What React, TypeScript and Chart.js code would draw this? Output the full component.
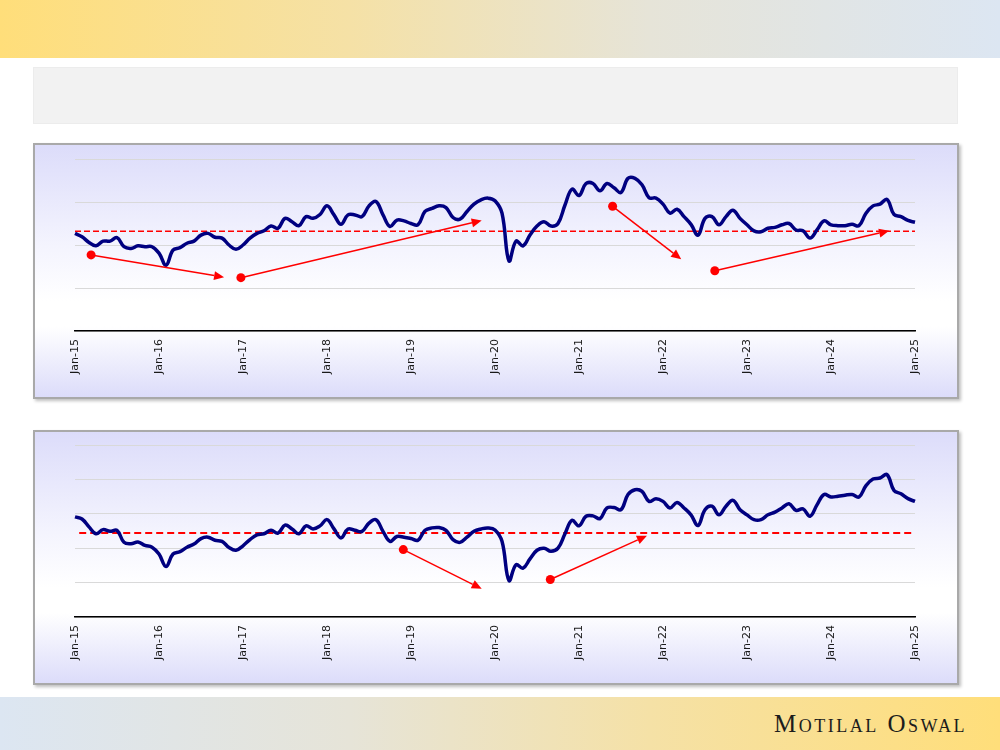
import React, { useEffect, useRef } from "react";
import { Chart, registerables } from "chart.js";

Chart.register(...registerables);

// ---------- DATA ----------
const yearSuffixes = ["15", "16", "17", "18", "19", "20", "21", "22", "23", "24", "25"];
const monthNames = ["Jan", "Feb", "Mar", "Apr", "May", "Jun", "Jul", "Aug", "Sep", "Oct", "Nov", "Dec"];

const categories: string[] = [];
yearSuffixes.forEach((yr, yi) => {
  monthNames.forEach((m, mi) => {
    if (yi === yearSuffixes.length - 1 && mi > 0) return;
    categories.push(`${m}-${yr}`);
  });
});

const topSeries = [
  22.7, 21.9, 20.6, 19.8, 20.9, 20.9, 21.7, 19.6, 19.2, 19.8, 19.6, 19.6,
  18.1, 15.3, 18.8, 19.4, 20.4, 20.9, 22.3, 22.7, 21.8, 21.6, 20.0, 19.0,
  20.0, 21.6, 22.7, 23.3, 24.4, 23.9, 26.2, 25.4, 24.5, 26.6, 26.2, 27.1,
  29.1, 27.0, 24.8, 27.0, 27.0, 26.6, 29.1, 30.1, 27.0, 24.3, 25.8, 25.6,
  25.0, 24.7, 27.8, 28.5, 29.1, 28.7, 26.4, 26.0, 27.8, 29.5, 30.5, 30.9,
  30.3, 27.4, 16.3, 20.9, 19.8, 22.3, 24.4, 25.4, 24.4, 25.0, 29.3, 33.0,
  31.5, 34.3, 34.3, 32.6, 34.3, 33.3, 32.2, 35.5, 35.5, 34.0, 31.0, 30.9,
  29.5, 27.4, 28.3, 26.6, 24.8, 22.3, 26.2, 26.6, 24.7, 26.6, 28.1, 26.2,
  24.7, 23.3, 23.1, 23.9, 24.1, 24.7, 25.0, 23.5, 23.3, 21.6, 23.5, 25.6,
  24.7, 24.5, 24.5, 24.8, 24.5, 27.4, 29.1, 29.5, 30.6, 27.1, 26.6, 25.7,
  25.3,
];

const bottomSeries = [
  29.1, 28.5, 26.2, 24.2, 25.4, 24.9, 25.2, 21.7, 21.3, 21.8, 20.8, 20.3,
  18.3, 14.7, 18.3, 19.0, 20.3, 21.2, 22.8, 23.2, 22.3, 22.0, 20.2, 19.4,
  20.7, 22.5, 23.9, 24.2, 25.2, 24.4, 26.7, 25.6, 24.2, 26.5, 25.6, 26.5,
  28.3, 25.6, 23.0, 25.6, 25.2, 24.9, 27.3, 28.3, 24.9, 22.0, 23.4, 23.2,
  22.8, 22.3, 25.2, 25.9, 26.0, 25.2, 22.5, 21.7, 23.2, 24.9, 25.6, 25.9,
  25.3, 22.0, 10.6, 15.2, 14.2, 16.9, 19.4, 20.0, 19.1, 20.0, 24.2, 28.1,
  26.5, 29.3, 29.4, 28.6, 31.7, 31.8, 31.2, 35.6, 37.0, 36.5, 33.6, 34.4,
  33.6, 31.7, 33.3, 31.7, 29.7, 26.6, 31.2, 32.2, 29.7, 32.2, 33.9, 31.2,
  29.7, 28.3, 28.3, 29.7, 30.5, 31.7, 32.9, 31.0, 31.4, 29.3, 32.6, 35.6,
  34.9, 35.1, 35.4, 35.6, 34.9, 38.2, 40.1, 40.4, 41.4, 36.8, 35.8, 34.4,
  33.6,
];

const topAverage = 23.2;
const bottomAverage = 24.4;

// arrows: [startMonthIndex, startValue, endMonthIndex, endValue]
const topArrows = [
  [2.3, 17.7, 21.3, 12.5],
  [23.7, 12.4, 58.1, 25.7],
  [76.8, 29.0, 86.6, 16.7],
  [91.4, 14.0, 116.3, 23.3],
];
const bottomArrows = [
  [46.9, 19.6, 58.1, 8.2],
  [67.9, 10.9, 81.7, 23.6],
];

const topScale = { min: 0, max: 40, step: 10 };
const bottomScale = { min: 0, max: 50, step: 10 };

// ---------- PLUGIN ----------
const overlayPlugin = {
  id: "overlay",
  beforeDatasetsDraw(chart: any, _args: any, opts: any) {
    const { ctx, chartArea, scales } = chart;
    const x = scales.x;
    const y = scales.y;
    ctx.save();
    ctx.strokeStyle = "#ff0000";
    ctx.lineWidth = opts.avgWidth;
    ctx.setLineDash(opts.avgDash);
    const py = y.getPixelForValue(opts.average);
    ctx.beginPath();
    ctx.moveTo(x.getPixelForValue(opts.avgStart), py);
    ctx.lineTo(chartArea.right, py);
    ctx.stroke();
    ctx.restore();
  },
  afterDatasetsDraw(chart: any, _args: any, opts: any) {
    const { ctx, scales } = chart;
    const x = scales.x;
    const y = scales.y;
    ctx.save();
    ctx.strokeStyle = "#ff0000";
    ctx.fillStyle = "#ff0000";
    ctx.lineWidth = 1.5;
    (opts.arrows as number[][]).forEach(([sx, sv, ex, ev]) => {
      const x1 = x.getPixelForValue(sx);
      const y1 = y.getPixelForValue(sv);
      const x2 = x.getPixelForValue(ex);
      const y2 = y.getPixelForValue(ev);
      const ang = Math.atan2(y2 - y1, x2 - x1);
      const headLen = 10;
      const headW = 4.5;
      const bx = x2 - headLen * Math.cos(ang);
      const by = y2 - headLen * Math.sin(ang);
      ctx.beginPath();
      ctx.moveTo(x1, y1);
      ctx.lineTo(bx, by);
      ctx.stroke();
      ctx.beginPath();
      ctx.moveTo(x2, y2);
      ctx.lineTo(bx + headW * Math.sin(ang), by - headW * Math.cos(ang));
      ctx.lineTo(bx - headW * Math.sin(ang), by + headW * Math.cos(ang));
      ctx.closePath();
      ctx.fill();
      ctx.beginPath();
      ctx.arc(x1, y1, 4.5, 0, Math.PI * 2);
      ctx.fill();
    });
    ctx.restore();
  },
};

// ---------- COMPONENTS ----------
type PanelProps = {
  top: number;
  height: number;
  series: number[];
  scale: { min: number; max: number; step: number };
  average: number;
  avgStart: number;
  avgWidth: number;
  avgDash: number[];
  arrows: number[][];
  padTop: number;
  axisHeight: number;
};

function ChartPanel(p: PanelProps) {
  const ref = useRef<HTMLCanvasElement | null>(null);
  useEffect(() => {
    if (!ref.current) return;
    const chart = new Chart(ref.current, {
      type: "line",
      data: {
        labels: categories,
        datasets: [
          {
            data: p.series,
            borderColor: "#000080",
            borderWidth: 3.5,
            pointRadius: 0,
            tension: 0.4,
            fill: false,
          },
        ],
      },
      options: {
        animation: false,
        responsive: true,
        maintainAspectRatio: false,
        layout: { padding: { left: 42, right: 44, top: p.padTop, bottom: 0 } },
        plugins: {
          legend: { display: false },
          tooltip: { enabled: false },
          overlay: {
            average: p.average,
            avgStart: p.avgStart,
            avgWidth: p.avgWidth,
            avgDash: p.avgDash,
            arrows: p.arrows,
          },
        } as any,
        scales: {
          x: {
            type: "category",
            offset: false,
            grid: { display: false, drawTicks: false },
            border: { display: true, color: "#000000", width: 1.5 },
            ticks: {
              autoSkip: false,
              maxRotation: 90,
              minRotation: 90,
              padding: 8,
              color: "#1a1a1a",
              font: { family: "'DejaVu Sans', Verdana, sans-serif", size: 11 },
              callback: (_v: any, i: number) => (i % 12 === 0 ? categories[i] : ""),
            },
            afterFit: (s: any) => {
              s.height = p.axisHeight;
            },
          },
          y: {
            min: p.scale.min,
            max: p.scale.max,
            ticks: { display: false, stepSize: p.scale.step },
            grid: { color: "#d9d9d9", lineWidth: 1, drawTicks: false },
            border: { display: false },
            afterFit: (s: any) => {
              s.width = 0;
            },
          },
        },
      },
      plugins: [overlayPlugin],
    });
    return () => chart.destroy();
  }, []);

  return (
    <>
      <div
        style={{
          position: "absolute",
          left: 33,
          top: p.top,
          width: 926,
          height: p.height,
          boxSizing: "border-box",
          border: "2px solid #a9a9a9",
          boxShadow: "2px 2px 3px rgba(0,0,0,0.25)",
          background:
            "linear-gradient(to bottom, #dcdcfa 0%, #f4f4fe 40%, #ffffff 62%, #ffffff 72%, #dcdcfa 100%)",
        }}
      />
      <div style={{ position: "absolute", left: 33, top: p.top, width: 926, height: p.height }}>
        <canvas ref={ref} />
      </div>
    </>
  );
}

export default function App() {
  return (
    <div
      style={{
        position: "absolute",
        left: 0,
        top: 0,
        width: 1000,
        height: 750,
        background: "#ffffff",
        overflow: "hidden",
      }}
    >
      <div
        style={{
          position: "absolute",
          left: 0,
          top: 0,
          width: 1000,
          height: 58,
          background: "linear-gradient(to right, #ffde7a 0%, #f5e1a6 35%, #e6e4d8 65%, #dce6f2 100%)",
        }}
      />
      <div
        style={{
          position: "absolute",
          left: 33,
          top: 67,
          width: 925,
          height: 57,
          boxSizing: "border-box",
          background: "#f2f2f2",
          border: "1px solid #ececec",
        }}
      />
      <ChartPanel
        top={143}
        height={256}
        series={topSeries}
        scale={topScale}
        average={topAverage}
        avgStart={0}
        avgWidth={1.3}
        avgDash={[6, 3]}
        arrows={topArrows}
        padTop={16}
        axisHeight={68}
      />
      <ChartPanel
        top={430}
        height={255}
        series={bottomSeries}
        scale={bottomScale}
        average={bottomAverage}
        avgStart={0.6}
        avgWidth={2}
        avgDash={[7, 4]}
        arrows={bottomArrows}
        padTop={15}
        axisHeight={68}
      />
      <div
        style={{
          position: "absolute",
          left: 0,
          top: 697,
          width: 1000,
          height: 53,
          background: "linear-gradient(to right, #dce6f2 0%, #e6e4d8 35%, #f5e1a6 65%, #ffde7a 100%)",
        }}
      />
      <div
        style={{
          position: "absolute",
          left: 774,
          top: 711,
          fontFamily: "'Liberation Serif', 'DejaVu Serif', serif",
          fontSize: 25,
          lineHeight: "25px",
          fontVariant: "small-caps",
          letterSpacing: "2.5px",
          color: "#1c1c1c",
          whiteSpace: "nowrap",
        }}
      >
        Motilal Oswal
      </div>
    </div>
  );
}
